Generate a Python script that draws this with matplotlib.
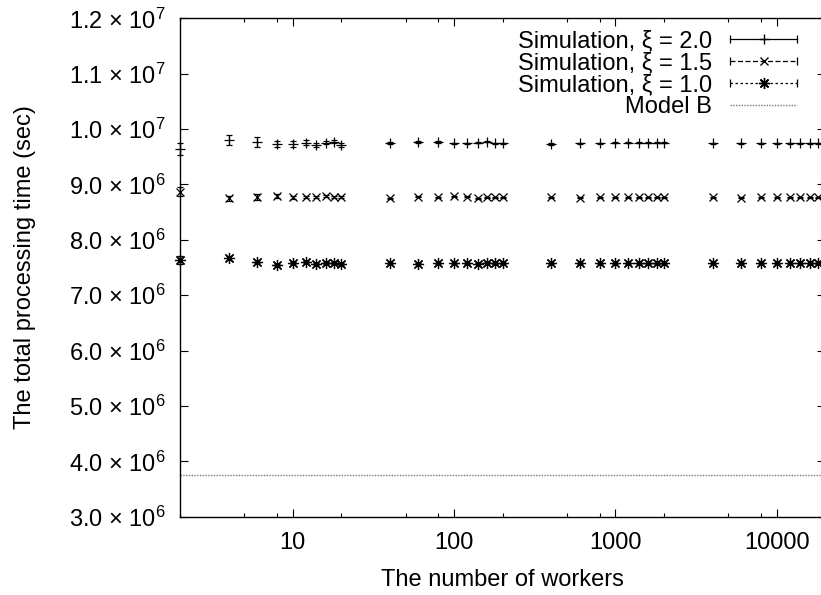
import numpy as np
import matplotlib
matplotlib.use("Agg")
import matplotlib.pyplot as plt
from matplotlib.lines import Line2D
from matplotlib.legend_handler import HandlerLine2D
from matplotlib.ticker import LogLocator, FixedLocator, FuncFormatter, NullFormatter

plt.rcParams['font.family'] = ['Liberation Sans', 'DejaVu Sans']
plt.rcParams['mathtext.fontset'] = 'custom'
plt.rcParams['mathtext.rm'] = 'Liberation Sans'
plt.rcParams['mathtext.it'] = 'Liberation Sans:italic'

# number of workers
workers = [2, 4, 6, 8, 10, 12, 14, 16, 18, 20,
           40, 60, 80, 100, 120, 140, 160, 180, 200,
           400, 600, 800, 1000, 1200, 1400, 1600, 1800, 2000,
           4000, 6000, 8000, 10000, 12000, 14000, 16000, 18000, 20000]

# total processing time (sec), xi = 2.0 / 1.5 / 1.0
sim_20 = [9.635e6, 9.80e6, 9.77e6, 9.73e6, 9.73e6, 9.754e6, 9.712e6, 9.754e6, 9.772e6, 9.71e6,
          9.743e6, 9.77e6, 9.77e6, 9.74e6, 9.74e6, 9.75e6, 9.77e6, 9.74e6, 9.74e6,
          9.73e6, 9.74e6, 9.74e6, 9.75e6, 9.75e6, 9.75e6, 9.75e6, 9.75e6, 9.75e6,
          9.74e6, 9.745e6, 9.745e6, 9.745e6, 9.745e6, 9.745e6, 9.745e6, 9.745e6, 9.745e6]
err_20 = [0.11e6, 0.09e6, 0.09e6, 0.05e6, 0.05e6, 0.04e6, 0.03e6, 0.03e6, 0.03e6, 0.04e6,
          0.02e6, 0.02e6, 0.015e6, 0.015e6, 0.01e6, 0.01e6, 0.01e6, 0.01e6, 0.01e6,
          0.01e6, 0.01e6, 0.01e6, 0.01e6, 0.01e6, 0.01e6, 0.01e6, 0.01e6, 0.01e6,
          0.01e6, 0.01e6, 0.01e6, 0.01e6, 0.01e6, 0.01e6, 0.01e6, 0.01e6, 0.01e6]

sim_15 = [8.87e6, 8.75e6, 8.77e6, 8.79e6, 8.77e6, 8.77e6, 8.77e6, 8.79e6, 8.78e6, 8.77e6,
          8.75e6, 8.78e6, 8.77e6, 8.79e6, 8.78e6, 8.75e6, 8.77e6, 8.77e6, 8.77e6,
          8.765e6, 8.76e6, 8.765e6, 8.765e6, 8.765e6, 8.765e6, 8.765e6, 8.765e6, 8.765e6,
          8.765e6, 8.76e6, 8.765e6, 8.765e6, 8.765e6, 8.765e6, 8.765e6, 8.765e6, 8.765e6]
err_15 = [0.08e6, 0.05e6, 0.05e6, 0.03e6, 0.03e6, 0.02e6, 0.02e6, 0.02e6, 0.02e6, 0.02e6,
          0.01e6, 0.01e6, 0.01e6, 0.01e6, 0.01e6, 0.01e6, 0.01e6, 0.01e6, 0.01e6,
          0.005e6, 0.005e6, 0.005e6, 0.005e6, 0.005e6, 0.005e6, 0.005e6, 0.005e6, 0.005e6,
          0.005e6, 0.005e6, 0.005e6, 0.005e6, 0.005e6, 0.005e6, 0.005e6, 0.005e6, 0.005e6]

sim_10 = [7.636e6, 7.67e6, 7.605e6, 7.545e6, 7.576e6, 7.605e6, 7.557e6, 7.587e6, 7.576e6, 7.566e6,
          7.576e6, 7.566e6, 7.576e6, 7.576e6, 7.576e6, 7.566e6, 7.587e6, 7.576e6, 7.576e6,
          7.576e6, 7.576e6, 7.576e6, 7.576e6, 7.576e6, 7.576e6, 7.576e6, 7.576e6, 7.576e6,
          7.576e6, 7.576e6, 7.576e6, 7.576e6, 7.576e6, 7.576e6, 7.576e6, 7.576e6, 7.576e6]
err_10 = [0.08e6, 0.04e6, 0.03e6, 0.02e6, 0.02e6, 0.02e6, 0.02e6, 0.02e6, 0.02e6, 0.02e6,
          0.01e6, 0.01e6, 0.01e6, 0.01e6, 0.01e6, 0.01e6, 0.01e6, 0.01e6, 0.01e6,
          0.005e6, 0.005e6, 0.005e6, 0.005e6, 0.005e6, 0.005e6, 0.005e6, 0.005e6, 0.005e6,
          0.005e6, 0.005e6, 0.005e6, 0.005e6, 0.005e6, 0.005e6, 0.005e6, 0.005e6, 0.005e6]

model_b = 3.76e6

labels = ["Simulation, ξ = 2.0", "Simulation, ξ = 1.5", "Simulation, ξ = 1.0", "Model B"]

FS = 17


class CapHandler(HandlerLine2D):
    # legend sample like gnuplot: |----+----|
    def create_artists(self, legend, orig_handle, xdescent, ydescent,
                       width, height, fontsize, trans):
        arts = super().create_artists(legend, orig_handle, xdescent, ydescent,
                                      width, height, fontsize, trans)
        xdata, _ = self.get_xdata(legend, xdescent, ydescent, width, height, fontsize)
        y = (height - ydescent) / 2
        caps = Line2D([xdata[0], xdata[-1]], [y, y], linestyle='none',
                      marker='|', markersize=6, markeredgewidth=0.9,
                      color='black', transform=trans)
        return list(arts) + [caps]


fig = plt.figure(figsize=(8.21, 5.95), dpi=100)
ax = fig.add_axes([180 / 821, 78.3 / 595, 645.3 / 821, 498.4 / 595])

star = (8, 2, 0)
for y, e, m, ms in [(sim_20, err_20, '+', 7), (sim_15, err_15, 'x', 6), (sim_10, err_10, star, 8)]:
    cont = ax.errorbar(workers, y, yerr=e, fmt='none', ecolor='black', elinewidth=0.9,
                       capsize=2.5, capthick=0.9)
    for art in cont.lines[1] + cont.lines[2]:
        art.set_clip_on(False)
    ax.plot(workers, y, linestyle='none', marker=m, markersize=ms, color='black',
            markeredgewidth=0.9, clip_on=False)

ax.axhline(model_b, color='#777777', linestyle=(0, (1, 1)), linewidth=1)

ax.set_xscale('log')
ax.set_xlim(2, 20000)
ax.set_ylim(3e6, 1.2e7)

ax.xaxis.set_major_locator(FixedLocator([10, 100, 1000, 10000]))
ax.xaxis.set_major_formatter(FuncFormatter(lambda v, p: f"{int(v)}"))
ax.xaxis.set_minor_locator(LogLocator(base=10, subs=[2, 5, 8]))
ax.xaxis.set_minor_formatter(NullFormatter())
ax.set_yticks(np.arange(3e6, 1.21e7, 1e6))


def fmt_y(v, pos):
    e = int(np.floor(np.log10(v) + 1e-9))
    return f"{v / 10**e:.1f} × 10$^{{{e}}}$"


ax.yaxis.set_major_formatter(FuncFormatter(fmt_y))

ax.tick_params(which='both', direction='in', top=True, right=True, labelsize=FS, width=0.8)
ax.tick_params(which='major', length=6)
ax.tick_params(which='minor', length=3)
ax.tick_params(axis='x', pad=11)
ax.tick_params(axis='y', pad=10)
for s in ax.spines.values():
    s.set_linewidth(1)

ax.set_xlabel("The number of workers", fontsize=FS, labelpad=11)
ax.set_ylabel("The total processing time (sec)", fontsize=FS, labelpad=24)

handles = [
    Line2D([], [], color='black', linestyle='-', marker='+', markersize=7, linewidth=0.9),
    Line2D([], [], color='black', linestyle=(0, (4, 2)), marker='x', markersize=6, linewidth=0.9),
    Line2D([], [], color='black', linestyle=(0, (2, 2)), marker=star, markersize=8, linewidth=0.9),
    Line2D([], [], color='#777777', linestyle=(0, (1, 1)), linewidth=1),
]
hmap = {h: CapHandler(numpoints=1) for h in handles[:3]}
ax.legend(handles, labels, handler_map=hmap, loc='upper right', frameon=False,
          markerfirst=False, fontsize=FS, handlelength=2.85, handletextpad=0.75,
          labelspacing=0.0, borderaxespad=0.1, bbox_to_anchor=(0.975, 1.0))

fig.savefig("out.png", dpi=100)
